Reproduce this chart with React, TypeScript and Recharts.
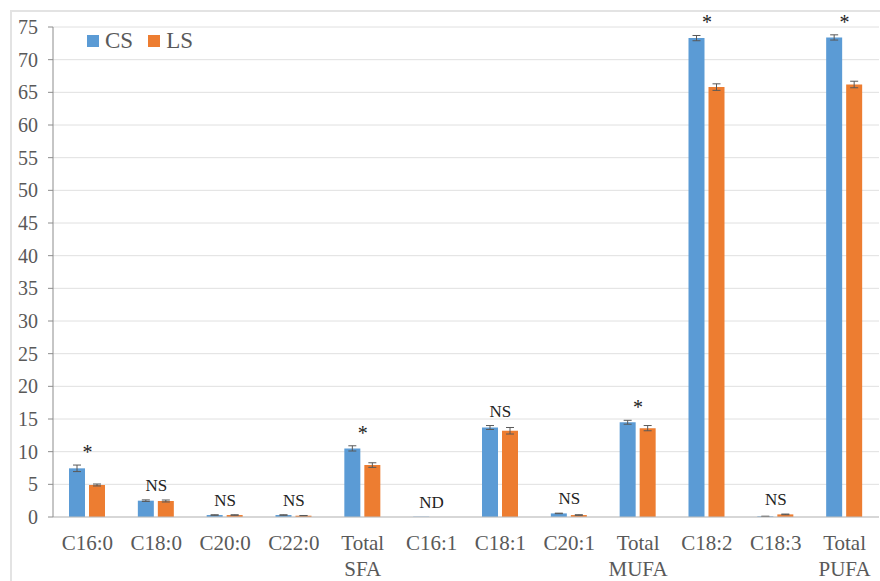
import React from 'react';
import {
  ComposedChart, Bar, Line, ErrorBar, XAxis, YAxis, CartesianGrid,
} from 'recharts';

const categories = ['C16:0', 'C18:0', 'C20:0', 'C22:0', 'Total SFA', 'C16:1', 'C18:1', 'C20:1', 'Total MUFA', 'C18:2', 'C18:3', 'Total PUFA'];
const csValues = [7.45, 2.5, 0.3, 0.3, 10.5, 0.05, 13.7, 0.55, 14.5, 73.3, 0.1, 73.4];
const lsValues = [4.9, 2.45, 0.3, 0.2, 7.95, 0, 13.2, 0.3, 13.6, 65.8, 0.4, 66.2];
const csErrors = [0.5, 0.12, 0.04, 0.04, 0.4, 0, 0.3, 0.04, 0.3, 0.4, 0.02, 0.4];
const lsErrors = [0.15, 0.15, 0.04, 0.03, 0.35, 0, 0.5, 0.05, 0.4, 0.5, 0.05, 0.5];
const significance = ['*', 'NS', 'NS', 'NS', '*', 'ND', 'NS', 'NS', '*', '*', 'NS', '*'];
const yTicks = [0, 5, 10, 15, 20, 25, 30, 35, 40, 45, 50, 55, 60, 65, 70, 75];

const data = categories.map((name, i) => ({
  name,
  cs: csValues[i],
  ls: lsValues[i],
  csErr: csErrors[i],
  lsErr: lsErrors[i],
  sig: significance[i],
}));

const FONT = '"Liberation Serif", "Times New Roman", Times, serif';
const TEXT = '#595959';

const CategoryTick = (props: any) => {
  const { x, y, payload } = props;
  const parts = String(payload.value).split(' ');
  return (
    <text x={x} y={y} textAnchor="middle" style={{ fontFamily: FONT, fontSize: 21 }} fill={TEXT}>
      {parts.map((p: string, i: number) => (
        <tspan key={i} x={x} dy={i === 0 ? 25 : 26}>{p}</tspan>
      ))}
    </text>
  );
};

const ValueTick = (props: any) => {
  const { x, y, payload } = props;
  return (
    <text x={x} y={y} dy={7} textAnchor="end" style={{ fontFamily: FONT, fontSize: 20 }} fill={TEXT}>
      {payload.value}
    </text>
  );
};

const SigLabel = (props: any) => {
  const { x, y, index } = props;
  const sig = data[index].sig;
  const star = sig === '*';
  return (
    <text x={x} y={star ? y - 6 : y - 9} textAnchor="middle" style={{ fontFamily: FONT, fontSize: star ? 20 : 17 }} fill="#222">
      {sig}
    </text>
  );
};

export default function App() {
  return (
    <div style={{ position: 'absolute', left: 0, top: 0, width: 880, height: 581, background: '#fff', overflow: 'hidden', fontFamily: FONT }}>
      <div style={{ position: 'absolute', left: 10, top: 10, width: 880, height: 600, border: '2px solid #e3e3e3', boxSizing: 'border-box' }} />
      <ComposedChart
        width={880}
        height={581}
        data={data}
        margin={{ top: 27, right: 1, bottom: 0, left: 0 }}
        barSize={16}
        barGap={4}
        style={{ position: 'absolute', left: 0, top: 0, fontFamily: FONT }}
      >
        <CartesianGrid vertical={false} stroke="#e0e0e0" />
        <XAxis
          dataKey="name"
          tick={<CategoryTick />}
          tickLine={false}
          axisLine={{ stroke: '#bfbfbf' }}
          interval={0}
          height={64}
        />
        <YAxis
          domain={[0, 75]}
          ticks={yTicks}
          width={53}
          tickSize={5}
          tickMargin={10}
          tickLine={{ stroke: '#8c8c8c' }}
          axisLine={{ stroke: '#8c8c8c' }}
          tick={<ValueTick />}
          allowDataOverflow
        />
        <Bar dataKey="cs" fill="#5B9BD5" isAnimationActive={false}>
          <ErrorBar dataKey="csErr" width={4} stroke="#595959" strokeWidth={1} />
        </Bar>
        <Bar dataKey="ls" fill="#ED7D31" isAnimationActive={false}>
          <ErrorBar dataKey="lsErr" width={4} stroke="#595959" strokeWidth={1} />
        </Bar>
        <Line
          dataKey={(d: any) => Math.max(d.cs + d.csErr, d.ls + d.lsErr)}
          stroke="none"
          dot={false}
          activeDot={false}
          legendType="none"
          isAnimationActive={false}
          label={SigLabel}
        />
      </ComposedChart>
      <div style={{ position: 'absolute', left: 87, top: 28, display: 'flex', alignItems: 'center', fontFamily: FONT, fontSize: 23, color: TEXT }}>
        <span style={{ width: 12, height: 12, background: '#5B9BD5', display: 'inline-block', marginRight: 6 }} />
        <span style={{ marginRight: 15 }}>CS</span>
        <span style={{ width: 12, height: 12, background: '#ED7D31', display: 'inline-block', marginRight: 6 }} />
        <span>LS</span>
      </div>
    </div>
  );
}
